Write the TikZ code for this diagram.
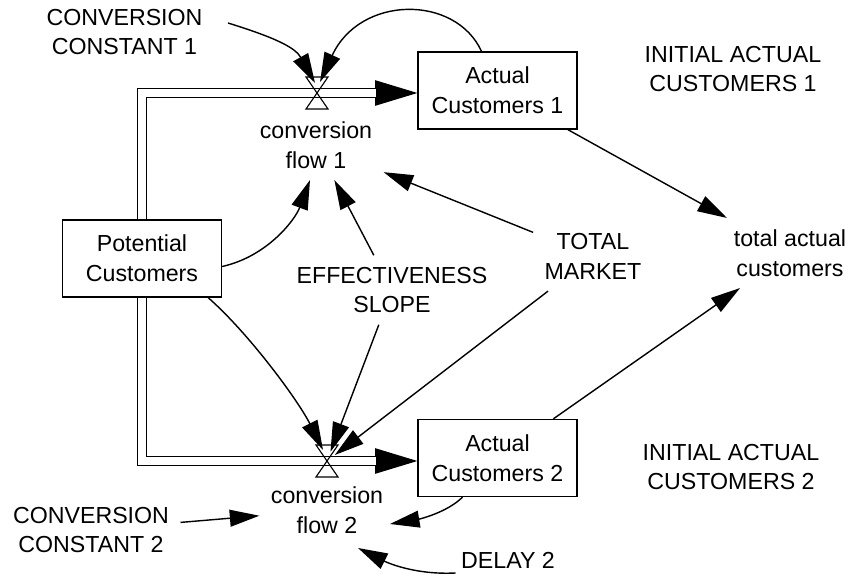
\documentclass[tikz,border=0pt]{standalone}
\usepackage{fontspec}
\setmainfont{Liberation Sans}
\usetikzlibrary{calc}
\usetikzlibrary{arrows.meta}

\tikzset{
  stock/.style={draw, line width=.9pt, minimum width=3.975cm, minimum height=1.925cm, align=center},
  aux/.style={align=center, inner sep=8pt},
  link/.style={line width=1pt, -{Triangle[length=21pt, width=12pt]}},
  pipe/.style={line width=.9pt, double, double distance=5pt},
  pipehead/.style={line width=.9pt, -{Triangle[length=30pt, width=18pt]}}
}

\begin{document}
\begin{tikzpicture}[x=.025cm, y=-.025cm, font=\fontsize{16.5}{21.3}\selectfont]
\useasboundingbox (0,0) rectangle (851,577);

\node[stock] (pc) at (142,258.5) {Potential\\Customers};
\node[stock] (ac1) at (497.5,90.5) {Actual\\Customers 1};
\node[stock] (ac2) at (497.5,458) {Actual\\Customers 2};

\coordinate (v1) at (317,93);
\coordinate (v2) at (327,461);

\node[aux] (f1) at (316,145) {conversion\\flow 1};
\node[aux] (f2) at (327,510) {conversion\\flow 2};
\node[aux] (cc1) at (124.5,32) {CONVERSION\\CONSTANT 1};
\node[aux] (cc2) at (91,530) {CONVERSION\\CONSTANT 2};
\node[aux] (eff) at (392,290) {EFFECTIVENESS\\SLOPE};
\node[aux] (tm) at (593,256.5) {TOTAL\\MARKET};
\node[aux] (tac) at (790,253) {total actual\\customers};
\node[aux] (ini1) at (733,69) {INITIAL ACTUAL\\CUSTOMERS 1};
\node[aux] (ini2) at (731,467) {INITIAL ACTUAL\\CUSTOMERS 2};
\node[aux] (del) at (508,560) {DELAY 2};

\draw[pipehead] (v1) -- (v1 -| ac1.west);
\draw[pipe] (pc.north) |- ($(v1 -| ac1.west)+(-41,0)$);
\draw[pipehead] (v2) -- (v2 -| ac2.west);
\draw[pipe] (pc.south) |- ($(v2 -| ac2.west)+(-41,0)$);

\foreach \v in {v1,v2}
  \draw[line width=.8pt] ($(\v)+(-11,-16)$) -- ++(22,0) -- ++(-22,32) -- ++(22,0) -- cycle;

\draw[link] ($(cc1.east)+(14,-9)$) .. controls +(45,14) and +(-20,-36) .. ($(v1)+(-2,-10)$);
\draw[link] ($(ac1.north)+(-16,0)$) .. controls +(-26,-57) and +(40,-87) .. ($(v1)+(3,-11)$);
\draw[link] ($(pc.east)+(0,8)$) .. controls +(45,-10) and +(-15,40) .. ($(f1.south)+(-6,0)$);
\draw[link] (eff) -- (f1);
\draw[link] (tm) -- (f1);
\draw[link] (ac1) -- (tac);

\draw[link] ($(pc.south east)+(-14,0)$) .. controls +(40,35) and +(-25,-50) .. ($(v2)+(-4,-11)$);
\draw[link, shorten >=7pt] (eff) -- (v2);
\draw[link, shorten >=7pt] (tm) -- (v2);
\draw[link] (ac2) -- (tac);
\draw[link] (cc2) -- (f2);
\draw[link] ($(ac2.south)+(-35,0)$) .. controls +(-15,15) and +(30,-5) .. ($(f2)+(63,14)$);
\draw[link] ($(del.west)+(6,13)$) .. controls +(-40,2) and +(30,15) .. ($(f2)+(31,38)$);
\end{tikzpicture}
\end{document}
